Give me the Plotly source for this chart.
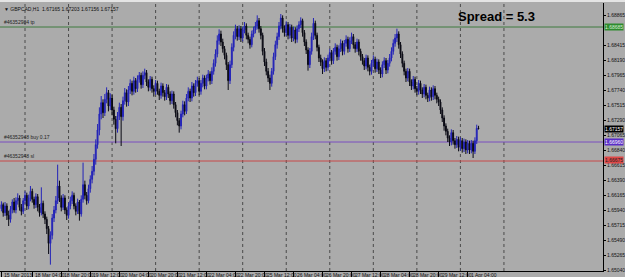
import plotly.graph_objects as go

# ---------------- data ----------------
symbol_title = "▼ GBPCAD,H1  1.67165 1.67203 1.67156 1.67157"
spread_text = "Spread = 5.3"

first_open = 1.6596
closes = [
    1.6602, 1.6590, 1.6600, 1.6586, 1.6580, 1.6595, 1.6606, 1.6594, 1.6608, 1.6612,
    1.6598, 1.6592, 1.6608, 1.6616, 1.6600, 1.6612, 1.6622, 1.6610, 1.6602, 1.6614,
    1.6598, 1.6590, 1.6604, 1.6588, 1.6580, 1.6566, 1.6544, 1.6556, 1.6582, 1.6594,
    1.6608, 1.6630, 1.6612, 1.6598, 1.6612, 1.6594, 1.6586, 1.6600, 1.6608, 1.6616,
    1.6600, 1.6592, 1.6606, 1.6588, 1.6610, 1.6632, 1.6616, 1.6608, 1.6626, 1.6640,
    1.6652, 1.6670, 1.6692, 1.6714, 1.6738, 1.6755, 1.6740, 1.6760, 1.6770, 1.6750,
    1.6762, 1.6744, 1.6730, 1.6716, 1.6735, 1.6748, 1.6734, 1.6758, 1.6770, 1.6756,
    1.6774, 1.6784, 1.6772, 1.6788, 1.6776, 1.6790, 1.6796, 1.6782, 1.6796, 1.6800,
    1.6786, 1.6778, 1.6790, 1.6776, 1.6772, 1.6784, 1.6772, 1.6766, 1.6780, 1.6770,
    1.6764, 1.6778, 1.6768, 1.6758, 1.6768, 1.6752, 1.6740, 1.6728, 1.6720, 1.6738,
    1.6752, 1.6742, 1.6762, 1.6772, 1.6762, 1.6780, 1.6770, 1.6784, 1.6788, 1.6772,
    1.6784, 1.6792, 1.6780, 1.6792, 1.6798, 1.6788, 1.6802, 1.6814, 1.6828, 1.6848,
    1.6858, 1.6846, 1.6836, 1.6826, 1.6812, 1.6788, 1.6812, 1.6838, 1.6856, 1.6866,
    1.6854, 1.6866, 1.6852, 1.6864, 1.6870, 1.6856, 1.6850, 1.6842, 1.6858, 1.6864,
    1.6870, 1.6878, 1.6866, 1.6856, 1.6832, 1.6816, 1.6802, 1.6792, 1.6784, 1.6802,
    1.6824, 1.6842, 1.6854, 1.6870, 1.6882, 1.6866, 1.6860, 1.6872, 1.6856, 1.6868,
    1.6852, 1.6864, 1.6850, 1.6866, 1.6872, 1.6878, 1.6860, 1.6846, 1.6834, 1.6812,
    1.6832, 1.6854, 1.6874, 1.6856, 1.6838, 1.6822, 1.6816, 1.6806, 1.6818, 1.6808,
    1.6822, 1.6830, 1.6818, 1.6832, 1.6838, 1.6824, 1.6836, 1.6844, 1.6832, 1.6844,
    1.6850, 1.6836, 1.6848, 1.6854, 1.6842, 1.6836, 1.6846, 1.6832, 1.6824, 1.6818,
    1.6810, 1.6822, 1.6808, 1.6802, 1.6814, 1.6820, 1.6806, 1.6816, 1.6804, 1.6798,
    1.6812, 1.6818, 1.6804, 1.6814, 1.6822, 1.6832, 1.6844, 1.6852, 1.6858, 1.6842,
    1.6828, 1.6814, 1.6802, 1.6792, 1.6802, 1.6786, 1.6780, 1.6790, 1.6776, 1.6772,
    1.6784, 1.6774, 1.6768, 1.6778, 1.6766, 1.6762, 1.6774, 1.6764, 1.6776, 1.6766,
    1.6760, 1.6756, 1.6744, 1.6732, 1.6720, 1.6712, 1.6702, 1.6696, 1.6710, 1.6698,
    1.6692, 1.6700, 1.6688, 1.6698, 1.6686, 1.6696, 1.6684, 1.6694, 1.6684, 1.6694,
    1.6682, 1.6698, 1.67165, 1.67157,
]
highs = [
    1.6607, 1.6605, 1.6606, 1.6604, 1.6593, 1.6600, 1.6610, 1.6612, 1.6613, 1.6619,
    1.6616, 1.6603, 1.6612, 1.6622, 1.6620, 1.6617, 1.6630, 1.6626, 1.6614, 1.6619,
    1.6618, 1.6603, 1.6628, 1.6608, 1.6592, 1.6584, 1.6570, 1.6562, 1.6588, 1.6600,
    1.6615, 1.6662, 1.6638, 1.6616, 1.6618, 1.6616, 1.6598, 1.6605, 1.6614, 1.6622,
    1.6620, 1.6604, 1.6611, 1.6609, 1.6616, 1.6665, 1.6638, 1.6621, 1.6632, 1.6646,
    1.6660, 1.6678, 1.6700, 1.6723, 1.6748, 1.6765, 1.6760, 1.6768, 1.6778, 1.6774,
    1.6769, 1.6767, 1.6749, 1.6735, 1.6741, 1.6755, 1.6753, 1.6764, 1.6777, 1.6775,
    1.6780, 1.6790, 1.6788, 1.6794, 1.6792, 1.6796, 1.6801, 1.6800, 1.6802, 1.6806,
    1.6804, 1.6790, 1.6795, 1.6794, 1.6781, 1.6789, 1.6788, 1.6776, 1.6785, 1.6784,
    1.6774, 1.6783, 1.6782, 1.6772, 1.6773, 1.6772, 1.6756, 1.6744, 1.6732, 1.6743,
    1.6758, 1.6757, 1.6768, 1.6778, 1.6776, 1.6786, 1.6784, 1.6789, 1.6794, 1.6792,
    1.6789, 1.6797, 1.6796, 1.6797, 1.6804, 1.6802, 1.6808, 1.6820, 1.6835, 1.6856,
    1.6865, 1.6863, 1.6851, 1.6840, 1.6830, 1.6816, 1.6818, 1.6844, 1.6862, 1.6872,
    1.6870, 1.6871, 1.6870, 1.6869, 1.6876, 1.6874, 1.6860, 1.6854, 1.6863, 1.6869,
    1.6876, 1.6886, 1.6882, 1.6870, 1.6860, 1.6837, 1.6821, 1.6807, 1.6797, 1.6807,
    1.6830, 1.6848, 1.6860, 1.6876, 1.6888, 1.6886, 1.6871, 1.6877, 1.6876, 1.6873,
    1.6872, 1.6869, 1.6868, 1.6871, 1.6877, 1.6883, 1.6881, 1.6864, 1.6850, 1.6838,
    1.6837, 1.6860, 1.6882, 1.6878, 1.6860, 1.6842, 1.6827, 1.6820, 1.6823, 1.6822,
    1.6827, 1.6836, 1.6834, 1.6837, 1.6844, 1.6842, 1.6841, 1.6850, 1.6848, 1.6849,
    1.6856, 1.6854, 1.6853, 1.6860, 1.6858, 1.6846, 1.6851, 1.6850, 1.6836, 1.6828,
    1.6822, 1.6827, 1.6826, 1.6812, 1.6819, 1.6826, 1.6824, 1.6821, 1.6820, 1.6808,
    1.6817, 1.6823, 1.6822, 1.6819, 1.6828, 1.6838, 1.6850, 1.6858, 1.6866, 1.6862,
    1.6846, 1.6832, 1.6818, 1.6806, 1.6807, 1.6806, 1.6790, 1.6795, 1.6794, 1.6780,
    1.6789, 1.6788, 1.6778, 1.6783, 1.6782, 1.6770, 1.6779, 1.6778, 1.6781, 1.6780,
    1.6770, 1.6764, 1.6760, 1.6748, 1.6736, 1.6724, 1.6716, 1.6706, 1.6715, 1.6714,
    1.6702, 1.6705, 1.6704, 1.6703, 1.6702, 1.6701, 1.6700, 1.6699, 1.6698, 1.6699,
    1.6698, 1.6703, 1.6722, 1.67203,
]
lows = [
    1.6592, 1.6584, 1.6585, 1.6579, 1.6570, 1.6575, 1.6589, 1.6590, 1.6589, 1.6602,
    1.6593, 1.6586, 1.6588, 1.6603, 1.6594, 1.6595, 1.6607, 1.6605, 1.6596, 1.6597,
    1.6592, 1.6584, 1.6586, 1.6582, 1.6573, 1.6558, 1.6528, 1.6512, 1.6550, 1.6576,
    1.6589, 1.6603, 1.6606, 1.6592, 1.6594, 1.6588, 1.6579, 1.6581, 1.6595, 1.6603,
    1.6595, 1.6586, 1.6588, 1.6578, 1.6584, 1.6605, 1.6610, 1.6602, 1.6604, 1.6620,
    1.6634, 1.6646, 1.6662, 1.6686, 1.6706, 1.6730, 1.6732, 1.6735, 1.6754, 1.6742,
    1.6744, 1.6736, 1.6722, 1.6694, 1.6710, 1.6729, 1.6690, 1.6728, 1.6752, 1.6749,
    1.6750, 1.6768, 1.6766, 1.6767, 1.6770, 1.6771, 1.6785, 1.6776, 1.6777, 1.6790,
    1.6780, 1.6772, 1.6773, 1.6770, 1.6764, 1.6767, 1.6767, 1.6759, 1.6761, 1.6764,
    1.6758, 1.6759, 1.6762, 1.6752, 1.6753, 1.6746, 1.6733, 1.6721, 1.6710, 1.6715,
    1.6733, 1.6736, 1.6738, 1.6757, 1.6756, 1.6757, 1.6764, 1.6765, 1.6779, 1.6766,
    1.6767, 1.6778, 1.6775, 1.6775, 1.6787, 1.6782, 1.6783, 1.6797, 1.6809, 1.6823,
    1.6842, 1.6840, 1.6830, 1.6820, 1.6804, 1.6774, 1.6783, 1.6807, 1.6832, 1.6850,
    1.6848, 1.6849, 1.6846, 1.6847, 1.6859, 1.6850, 1.6844, 1.6836, 1.6838, 1.6853,
    1.6859, 1.6865, 1.6860, 1.6850, 1.6826, 1.6810, 1.6796, 1.6786, 1.6774, 1.6779,
    1.6797, 1.6819, 1.6836, 1.6849, 1.6865, 1.6860, 1.6854, 1.6855, 1.6850, 1.6851,
    1.6846, 1.6847, 1.6844, 1.6845, 1.6861, 1.6867, 1.6854, 1.6840, 1.6828, 1.6803,
    1.6807, 1.6827, 1.6849, 1.6850, 1.6832, 1.6816, 1.6810, 1.6798, 1.6801, 1.6802,
    1.6803, 1.6817, 1.6812, 1.6813, 1.6827, 1.6818, 1.6819, 1.6831, 1.6826, 1.6827,
    1.6839, 1.6830, 1.6831, 1.6843, 1.6836, 1.6830, 1.6831, 1.6826, 1.6818, 1.6812,
    1.6804, 1.6805, 1.6802, 1.6796, 1.6797, 1.6809, 1.6800, 1.6801, 1.6798, 1.6792,
    1.6793, 1.6807, 1.6798, 1.6799, 1.6809, 1.6817, 1.6827, 1.6839, 1.6846, 1.6836,
    1.6822, 1.6808, 1.6796, 1.6786, 1.6787, 1.6780, 1.6774, 1.6775, 1.6770, 1.6766,
    1.6767, 1.6768, 1.6762, 1.6763, 1.6760, 1.6756, 1.6757, 1.6758, 1.6759, 1.6760,
    1.6754, 1.6750, 1.6738, 1.6726, 1.6713, 1.6706, 1.6696, 1.6690, 1.6691, 1.6692,
    1.6686, 1.6687, 1.6682, 1.6683, 1.6680, 1.6681, 1.6678, 1.6679, 1.6678, 1.6679,
    1.6672, 1.6678, 1.6693, 1.67156,
]
opens = [first_open] + closes[:-1]
bars = list(range(len(closes)))

# order levels
tp_price, tp_label = 1.68685, "#46352984 tp"
buy_price, buy_label = 1.66960, "#46352948 buy 0.17"
sl_price, sl_label = 1.66675, "#46352948 sl"
bid_price = 1.67157

# price scale labels (the one under the tp box is hidden, as in the terminal)
price_ticks = [1.68865, 1.68415, 1.68190, 1.67965, 1.67740, 1.67515, 1.67290,
               1.67065, 1.66840, 1.66615, 1.66390, 1.66165, 1.65940, 1.65715, 1.65490,
               1.65265, 1.65040]

# time scale labels (bar index, text)
time_tick_bars = [0, 17, 33, 49, 65, 81, 97, 113, 129, 145, 161, 177, 193, 209, 225, 241, 257]
time_tick_text = ["15 Mar 2013", "18 Mar 04:00", "18 Mar 20:00", "19 Mar 12:00", "20 Mar 04:00",
                  "20 Mar 20:00", "21 Mar 12:00", "22 Mar 04:00", "22 Mar 20:00", "25 Mar 12:00",
                  "26 Mar 04:00", "26 Mar 20:00", "27 Mar 12:00", "28 Mar 04:00", "28 Mar 20:00",
                  "29 Mar 12:00", "1 Apr 04:00"]
# first bar of each trading day (day separators)
day_start_bars = [13, 37, 61, 85, 109, 133, 157, 181, 205, 229, 253, 277]

# ---------------- figure ----------------
BG = "#ABABAB"
FONT = "Liberation Sans, Arial, sans-serif"

fig = go.Figure()
fig.add_trace(go.Candlestick(
    x=bars, open=opens, high=highs, low=lows, close=closes,
    increasing=dict(line=dict(color="#2424B8", width=1), fillcolor="#2424B8"),
    decreasing=dict(line=dict(color="#0A0A14", width=1), fillcolor="#0A0A14"),
    whiskerwidth=0, showlegend=False, hoverinfo="skip",
))

shapes = [dict(type="rect", xref="paper", yref="paper", x0=0, x1=1.04, y0=1.004, y1=1.02,
               fillcolor="#E4E4E4", line=dict(width=0), layer="below")]
for d in day_start_bars:
    shapes.append(dict(type="line", xref="x", yref="paper", x0=d, x1=d, y0=0, y1=1,
                       line=dict(color="#4A4A4A", width=1, dash="dot"), layer="below"))
for p, c in [(tp_price, "#3F7A3F"), (buy_price, "#7A4FC0"), (sl_price, "#C84848")]:
    shapes.append(dict(type="line", xref="paper", yref="y", x0=0, x1=1, y0=p, y1=p,
                       line=dict(color=c, width=1), layer="below"))

annotations = [
    dict(text=symbol_title, xref="paper", yref="paper", x=0.004, y=1.0, xanchor="left",
         yanchor="top", yshift=-1, showarrow=False, font=dict(size=5, color="#111", family=FONT)),
    dict(text="<b>" + spread_text + "</b>", xref="paper", yref="paper", x=0.8226, y=0.951,
         xanchor="center", yanchor="middle", showarrow=False,
         font=dict(size=13, color="#000", family=FONT)),
]
for p, t in [(tp_price, tp_label), (buy_price, buy_label), (sl_price, sl_label)]:
    annotations.append(dict(text=t, xref="paper", yref="y", x=0.004, y=p, xanchor="left",
                            yanchor="bottom", showarrow=False,
                            font=dict(size=5, color="#222", family=FONT)))
for p, bg, fg, ys in [(tp_price, "#2E8B2E", "#D8F0D8", 0), (bid_price, "#000000", "#FFFFFF", 0),
                      (buy_price, "#5A2DC8", "#FFFFFF", 0), (sl_price, "#E04848", "#222222", 1)]:
    annotations.append(dict(text=f"{p:.5f}", xref="paper", yref="y", x=1.0, y=p,
                            xanchor="left", yanchor="middle", showarrow=False, xshift=1, yshift=ys,
                            bgcolor=bg, borderpad=0,
                            font=dict(size=5, color=fg, family=FONT)))
# time labels sit right of their separator tick, just under the axis line
for b, t in zip(time_tick_bars, time_tick_text):
    annotations.append(dict(text=t, xref="x", yref="paper", x=b, y=0, xanchor="left",
                            yanchor="top", xshift=1, yshift=1, showarrow=False,
                            font=dict(size=5, color="#111", family=FONT)))

fig.update_layout(
    width=625, height=277,
    margin=dict(l=0, r=22, t=3, b=6, autoexpand=False),
    paper_bgcolor=BG, plot_bgcolor=BG,
    shapes=shapes, annotations=annotations,
    font=dict(family=FONT, size=5, color="#222"),
    xaxis=dict(range=[-0.78, 331.6], showgrid=False, zeroline=False, rangeslider=dict(visible=False),
               tickvals=time_tick_bars, showticklabels=False,
               ticks="outside", ticklen=6, tickcolor="#000",
               showline=True, linecolor="#000", linewidth=1, fixedrange=True),
    yaxis=dict(range=[1.65025, 1.69045], side="right", showgrid=False, zeroline=False,
               tickvals=price_ticks, ticktext=[f"{v:.5f}" for v in price_ticks],
               ticks="outside", ticklen=2, tickcolor="#000", tickfont=dict(size=5, color="#111"),
               showline=True, linecolor="#000", linewidth=1, fixedrange=True),
)

fig.write_html("out.html")
